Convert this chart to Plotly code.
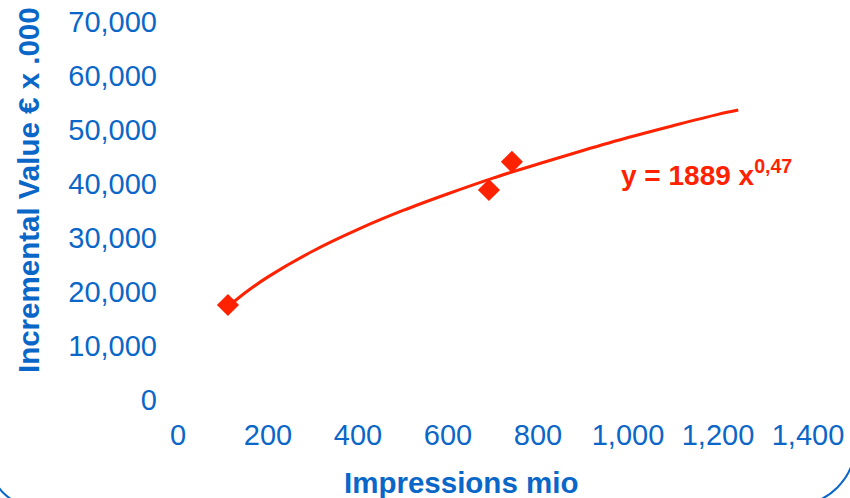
import plotly.graph_objects as go

# Observed data points
impressions = [111, 691, 742]
incremental_value = [17600, 38900, 44100]

# Trendline (power fit y = 1889 x^0.47)
trend_x = [110, 150, 200, 300, 400, 500, 600, 700, 800, 900, 1000, 1100, 1200, 1245]
trend_y = [17200, 19900, 22800, 27600, 31600, 35100, 38200, 41100, 43700, 46200, 48600, 50800, 52900, 53700]

x_ticks = [0, 200, 400, 600, 800, 1000, 1200, 1400]
y_ticks = [0, 10000, 20000, 30000, 40000, 50000, 60000, 70000]

BLUE = "#0A67C8"
RED = "#FF2200"
FONT = "Liberation Sans, Arial, sans-serif"

W, H = 850, 498
L, R, T, B = 178, 42, 22, 98
PW, PH = W - L - R, H - T - B


def px(xp, yp):
    return (xp - L) / PW, (H - B - yp) / PH


def quarter_arc(cx, cy, r, start):
    k = 0.5523
    if start == "right":
        return [(cx + r, cy), (cx + r, cy + k * r), (cx + k * r, cy + r), (cx, cy + r)]
    return [(cx, cy + r), (cx - k * r, cy + r), (cx - r, cy + k * r), (cx - r, cy)]


def fmt(p):
    x, y = px(*p)
    return f"{x:.5f},{y:.5f}"


rc = quarter_arc(795, 445, 60, "right")
right_path = f"M {fmt((855, 300))} L {fmt(rc[0])} C {fmt(rc[1])} {fmt(rc[2])} {fmt(rc[3])} L {fmt((600, 505))}"
lc = quarter_arc(32, 465, 40, "bottom")
left_path = f"M {fmt((200, 505))} L {fmt(lc[0])} C {fmt(lc[1])} {fmt(lc[2])} {fmt(lc[3])} L {fmt((-8, 300))}"

fig = go.Figure()
fig.add_trace(go.Scatter(
    x=trend_x, y=trend_y, mode="lines",
    line=dict(color=RED, width=3, shape="spline"),
    hoverinfo="skip", showlegend=False,
))
fig.add_trace(go.Scatter(
    x=impressions, y=incremental_value, mode="markers",
    marker=dict(symbol="diamond", size=17, color=RED),
    showlegend=False,
))

fig.update_layout(
    width=W, height=H,
    margin=dict(l=L, r=R, t=T, b=B, autoexpand=False),
    paper_bgcolor="white", plot_bgcolor="white",
    font=dict(family=FONT, color=BLUE, size=29),
    xaxis=dict(
        range=[0, 1400], tickvals=x_ticks, tickformat=",",
        showgrid=False, zeroline=False, showline=False,
        ticklabelstandoff=15, tickfont=dict(size=29, color=BLUE),
    ),
    yaxis=dict(
        range=[0, 70000], tickvals=y_ticks, tickformat=",",
        showgrid=False, zeroline=False, showline=False,
        ticklabelstandoff=20, tickfont=dict(size=29, color=BLUE),
    ),
    shapes=[
        dict(type="path", xref="paper", yref="paper", path=right_path,
             line=dict(color=BLUE, width=2)),
        dict(type="path", xref="paper", yref="paper", path=left_path,
             line=dict(color=BLUE, width=2)),
    ],
    annotations=[
        dict(text="<b>Incremental Value € x .000</b>", xref="paper", yref="paper",
             x=px(28, 190)[0], y=px(28, 190)[1], textangle=-90, showarrow=False,
             font=dict(size=29.5, color=BLUE, family=FONT), xanchor="center", yanchor="middle"),
        dict(text="<b>Impressions mio</b>", xref="paper", yref="paper",
             x=px(461, 482)[0], y=px(461, 482)[1], showarrow=False,
             font=dict(size=29.5, color=BLUE, family=FONT), xanchor="center", yanchor="middle"),
        dict(text="<b>y = 1889 x<sup>0,47</sup></b>", xref="paper", yref="paper",
             x=px(619, 173)[0], y=px(619, 173)[1], showarrow=False,
             font=dict(size=28, color=RED, family=FONT), xanchor="left", yanchor="middle"),
    ],
)

fig.write_html(
    "out.html",
    config={"displayModeBar": False},
    post_script="document.body.style.margin='0';document.body.style.overflow='hidden';",
)
